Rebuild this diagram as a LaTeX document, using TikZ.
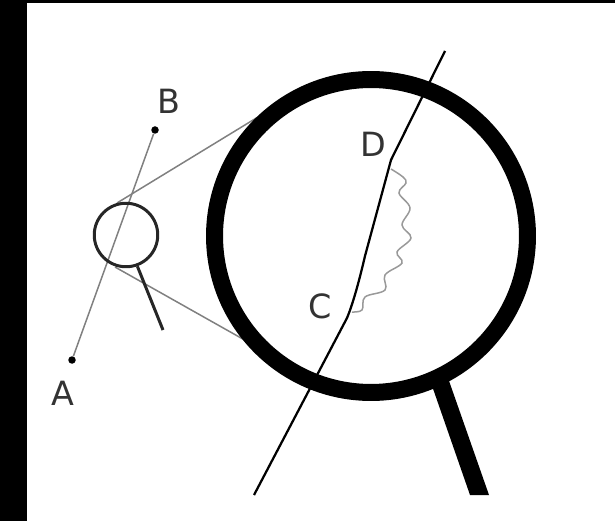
\documentclass[tikz,border=0pt]{standalone}
\usepackage{fontspec}
\setmainfont{DejaVu Sans}
\tikzset{
  dot/.style={circle,fill=black,inner sep=0pt,minimum size=0.15cm},
  letter/.style={inner sep=0pt,font=\fontsize{19}{19}\selectfont,text=black!80},
  thinline/.style={black!50,line width=0.03cm}
}
\begin{document}
\begin{tikzpicture}[x=0.02cm,y=0.02cm]
\useasboundingbox (0,0) rectangle (615,521);
\fill[black] (0,0) rectangle (27,521);
\fill[black] (0,518) rectangle (615,521);

\node[dot] (A) at (72,161) {};
\node[dot] (B) at (155,391) {};
\node[letter] (labelA) at (63,128) {A};
\node[letter] (labelB) at (169,420) {B};
\node[letter] (labelC) at (320,215) {C};
\node[letter] (labelD) at (373,377) {D};

\coordinate (smalltop) at (117,318);
\coordinate (smallbot) at (115,254);
\coordinate (bigtop) at (258,404);
\coordinate (bigbot) at (257,174);
\draw[thinline] (A) -- (B);
\draw[thinline] (smalltop) -- (bigtop);
\draw[thinline] (smallbot) -- (bigbot);

% small lens
\node[circle,draw=black!85,line width=0.06cm,minimum size=1.27cm,inner sep=0pt] (lens) at (126,286) {};
\coordinate (lensend) at (163,191);
\draw[black!85,line width=0.06cm] (lens.-70) -- (lensend);

% big lens
\node[circle,draw=black,line width=0.34cm,minimum size=6.26cm,inner sep=0pt] (biglens) at (371,285) {};
\fill[black] (430,141) -- (448,143) -- (489,26) -- (470,26) -- cycle;

% curve through the lens
\coordinate (lo) at (254,26);
\coordinate (C) at (347,203);
\coordinate (D) at (391,361);
\coordinate (hi) at (445,470);
\draw[black,line width=0.045cm] (lo) -- (C) .. controls (352,215) and (358,235) .. (365,265)
  -- (D) -- (hi);

\draw[black!40,line width=0.03cm] plot[smooth,tension=0.6] coordinates {
  (391,352) (403,344) (406,338) (399,328) (410,313) (402,296) (411,283)
  (397,269) (402,258) (385,246) (385,231) (365,224) (362,211) (352,209)};
\end{tikzpicture}
\end{document}
